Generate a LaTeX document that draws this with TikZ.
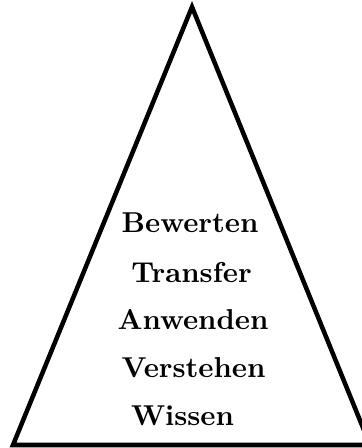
\documentclass[tikz,border=0pt]{standalone}
\begin{document}
\begin{tikzpicture}[x=0.3547pt, y=-0.3547pt,
  edge/.style={line width=1.6pt, line join=miter},
  level/.style={anchor=base, font=\bfseries, inner sep=0pt, scale=1.02}]
  \useasboundingbox (0,0) rectangle (362,448);
  % pyramid outline
  \coordinate (apex) at (192,7);
  \coordinate (bl) at (13,445);
  \coordinate (br) at (370,445);
  \draw[edge] (apex) -- (bl) -- (br) -- cycle;
  % levels, bottom to top
  \node[level] (wissen)    at (182.5,425) {Wissen};
  \node[level] (verstehen) at (193.5,377) {Verstehen};
  \node[level] (anwenden)  at (193,330)   {Anwenden};
  \node[level] (transfer)  at (191.5,283) {Transfer};
  \node[level] (bewerten)  at (190,233)   {Bewerten};
\end{tikzpicture}
\end{document}
